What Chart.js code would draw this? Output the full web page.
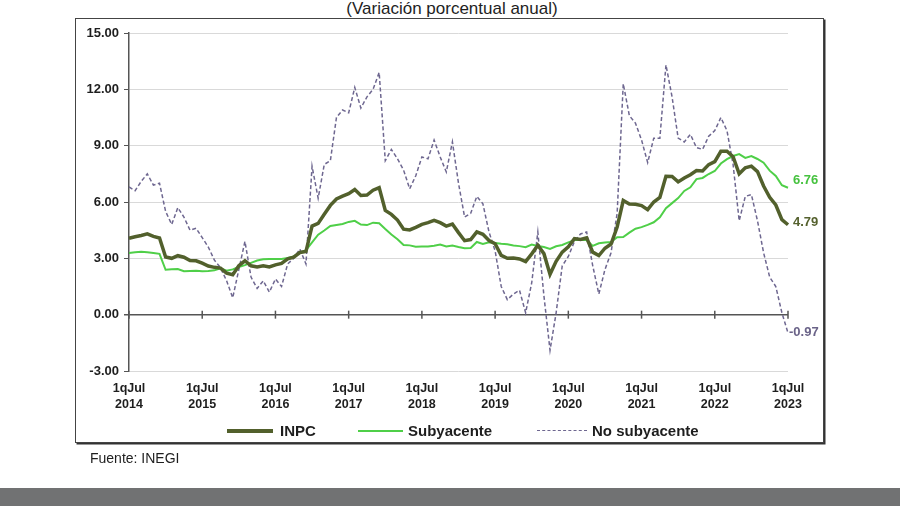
<!DOCTYPE html>
<html>
<head>
<meta charset="utf-8">
<script src="https://cdn.jsdelivr.net/npm/chart.js@4.4.1/dist/chart.umd.min.js"></script>
<style>
    body { margin: 0; width: 900px; height: 506px; background: #fff; position: relative; overflow: hidden;
           font-family: "Liberation Sans", Arial, sans-serif; color: #1e1e1e; }
    #box { position: absolute; left: 75px; top: 18px; width: 747px; height: 423px;
           border: 1.5px solid #444; box-shadow: 1.5px 1.5px 0 #333; }
    #title { position: absolute; left: 0; width: 904px; top: 0; text-align: center; font-size: 17px; line-height: 18px; }
    #chart { position: absolute; left: 0; top: 0; }
    .lg-line { position: absolute; }
    .lg-text { position: absolute; top: 422px; font-size: 15px; font-weight: bold; line-height: 18px; }
    #source { position: absolute; left: 90px; top: 449px; font-size: 14px; line-height: 18px; }
    #band { position: absolute; left: 0; top: 488px; width: 900px; height: 18px; background: #717273; }
</style>
</head>
<body>
<div id="box"></div>
<div id="title">(Variación porcentual anual)</div>
<canvas id="chart" width="900" height="506"></canvas>
<div id="legend"></div>
<div id="source">Fuente: INEGI</div>
<div id="band"></div>
<script>
// monthly periods, Jul 2014 .. Jul 2023 (first fortnight shown on the axis)
const startYear = 2014, startMonth = 7, nPeriods = 109;
const periods = [];
for (let i = 0; i < nPeriods; i++) {
    const m = (startMonth - 1 + i) % 12 + 1;
    const y = startYear + Math.floor((startMonth - 1 + i) / 12);
    periods.push(y + '-' + String(m).padStart(2, '0'));
}

const yTicks = [-3, 0, 3, 6, 9, 12, 15];

// annual % change
const inpc = [
    4.07, 4.15, 4.22, 4.30, 4.17, 4.08,
    3.07, 3.00, 3.14, 3.06, 2.88, 2.87, 2.74, 2.59, 2.52, 2.48, 2.21, 2.13,
    2.61, 2.87, 2.60, 2.54, 2.60, 2.54, 2.65, 2.73, 2.97, 3.06, 3.31, 3.36,
    4.72, 4.86, 5.35, 5.82, 6.16, 6.31, 6.44, 6.66, 6.35, 6.37, 6.63, 6.77,
    5.55, 5.34, 5.04, 4.55, 4.51, 4.65, 4.81, 4.90, 5.02, 4.90, 4.72, 4.83,
    4.37, 3.94, 4.00, 4.41, 4.28, 3.95, 3.78, 3.16, 3.00, 3.02, 2.97, 2.83,
    3.24, 3.70, 3.25, 2.15, 2.84, 3.33, 3.62, 4.05, 4.01, 4.09, 3.33, 3.15,
    3.54, 3.76, 4.67, 6.08, 5.89, 5.88, 5.81, 5.59, 6.00, 6.24, 7.37, 7.36,
    7.07, 7.28, 7.45, 7.68, 7.65, 7.99, 8.15, 8.70, 8.70, 8.41, 7.50, 7.82,
    7.91, 7.62, 6.85, 6.25, 5.84, 5.06, 4.79
];
const subyacente = [
    3.29, 3.32, 3.35, 3.32, 3.29, 3.24,
    2.39, 2.42, 2.43, 2.31, 2.33, 2.34, 2.31, 2.33, 2.36, 2.47, 2.34, 2.41,
    2.54, 2.64, 2.76, 2.88, 2.95, 2.97, 2.97, 2.96, 3.02, 3.10, 3.29, 3.44,
    3.85, 4.26, 4.48, 4.72, 4.78, 4.83, 4.94, 5.00, 4.80, 4.77, 4.90, 4.87,
    4.56, 4.27, 4.02, 3.71, 3.69, 3.62, 3.63, 3.63, 3.67, 3.73, 3.63, 3.68,
    3.60, 3.54, 3.55, 3.87, 3.77, 3.85, 3.82, 3.78, 3.75, 3.68, 3.65, 3.59,
    3.73, 3.66, 3.60, 3.50, 3.64, 3.71, 3.85, 3.97, 3.99, 3.98, 3.66, 3.80,
    3.84, 3.87, 4.12, 4.13, 4.37, 4.58, 4.66, 4.78, 4.92, 5.19, 5.67, 5.94,
    6.21, 6.59, 6.78, 7.22, 7.28, 7.49, 7.65, 8.05, 8.28, 8.45, 8.55, 8.35,
    8.45, 8.29, 8.09, 7.67, 7.39, 6.89, 6.76
];
const noSubyacente = [
    6.8, 6.6, 7.1, 7.5, 6.9, 7.0,
    5.5, 4.8, 5.7, 5.2, 4.5, 4.6, 4.1, 3.6, 2.9, 2.5, 1.8, 0.9,
    2.4, 3.9, 2.0, 1.4, 1.8, 1.2, 1.9, 1.5, 2.7, 3.0, 3.5, 2.7,
    7.9, 6.2, 8.0, 8.2, 10.5, 10.9, 10.75, 12.1, 11.0, 11.6, 12.0, 12.9,
    8.2, 8.8, 8.3, 7.7, 6.7, 7.4, 8.4, 8.3, 9.3, 8.4, 7.6, 9.2,
    7.0, 5.2, 5.4, 6.3, 5.9, 4.4, 3.4, 1.5, 0.8, 1.1, 1.3, 0.1,
    1.7, 4.4, 1.0, -1.9, 0.1, 2.6, 3.1, 3.9, 4.3, 4.4, 2.6, 1.1,
    2.4, 3.3, 5.4, 12.3, 10.6, 10.2, 9.3, 8.1, 9.4, 9.4, 13.3, 11.6,
    9.4, 9.2, 9.6, 8.9, 8.8, 9.5, 9.8, 10.5, 9.8, 8.0, 5.0, 6.3,
    6.4, 5.0, 3.3, 2.0, 1.5, 0.1, -0.97
];

const colInpc = '#52602c';
const colSub = '#4fcf48';
const colNoSub = '#6e6790';

// legend
const legendItems = [
    { text: 'INPC', x: 227, w: 46, textX: 280, style: `top:429px;height:4px;background:${colInpc};` },
    { text: 'Subyacente', x: 358, w: 45, textX: 408, style: `top:430px;height:2px;background:${colSub};` },
    { text: 'No subyacente', x: 537, w: 50, textX: 592, style: `top:430px;height:0;border-top:1.5px dashed ${colNoSub};` }
];
const legendEl = document.getElementById('legend');
legendItems.forEach(it => {
    legendEl.insertAdjacentHTML('beforeend',
        `<div class="lg-line" style="left:${it.x}px;width:${it.w}px;${it.style}"></div>` +
        `<div class="lg-text" style="left:${it.textX}px">${it.text}</div>`);
});

// zero axis line tick marks at each July
const zeroTicks = {
    id: 'zeroTicks',
    beforeDatasetsDraw(chart) {
        const { ctx, scales: { x, y } } = chart;
        const y0 = y.getPixelForValue(0);
        ctx.save();
        ctx.strokeStyle = '#555';
        ctx.lineWidth = 1.5;
        periods.forEach((p, i) => {
            if (!p.endsWith('-07')) return;
            const px = x.getPixelForValue(i);
            ctx.beginPath();
            ctx.moveTo(px, y0 - 4);
            ctx.lineTo(px, y0 + 4);
            ctx.stroke();
        });
        ctx.restore();
    }
};

// last value labels
const endLabels = {
    id: 'endLabels',
    afterDatasetsDraw(chart) {
        const { ctx } = chart;
        const offsets = [[5, -2], [5, -7], [1, 0]];
        const colors = ['#55612e', '#46c23f', '#6a6388'];
        ctx.save();
        ctx.font = 'bold 13px "Liberation Sans", Arial, sans-serif';
        ctx.textBaseline = 'middle';
        chart.data.datasets.forEach((ds, i) => {
            const meta = chart.getDatasetMeta(i);
            const pt = meta.data[meta.data.length - 1];
            ctx.fillStyle = colors[i];
            ctx.fillText(ds.data[ds.data.length - 1].toFixed(2), pt.x + offsets[i][0], pt.y + offsets[i][1]);
        });
        ctx.restore();
    }
};

new Chart(document.getElementById('chart'), {
    type: 'line',
    data: {
        labels: periods,
        datasets: [
            { label: 'INPC', data: inpc, borderColor: colInpc, borderWidth: 3.5, order: 1 },
            { label: 'Subyacente', data: subyacente, borderColor: colSub, borderWidth: 2, order: 2 },
            { label: 'No subyacente', data: noSubyacente, borderColor: colNoSub, borderWidth: 1.5, borderDash: [4, 2.5], order: 3 }
        ]
    },
    options: {
        responsive: false,
        animation: false,
        elements: { point: { radius: 0 }, line: { tension: 0 } },
        layout: { padding: { top: 33, right: 112, bottom: 85, left: 0 } },
        plugins: { legend: { display: false }, tooltip: { enabled: false } },
        scales: {
            x: {
                grid: { display: false },
                border: { display: false },
                afterFit: s => { s.height = 50; },
                ticks: {
                    autoSkip: false,
                    maxRotation: 0,
                    padding: 2,
                    color: '#1e1e1e',
                    font: { family: '"Liberation Sans", Arial, sans-serif', size: 12.5, weight: 'bold', lineHeight: 1.25 },
                    callback: function (val) {
                        const p = periods[val];
                        return p.endsWith('-07') ? ['1qJul', p.slice(0, 4)] : null;
                    }
                }
            },
            y: {
                min: -3,
                max: 15,
                afterFit: s => { s.width = 129; },
                afterBuildTicks: s => { s.ticks = yTicks.map(v => ({ value: v })); },
                border: { color: '#555', width: 1.5 },
                grid: {
                    color: c => c.tick.value === 0 ? '#555' : '#d9d9d9',
                    lineWidth: c => c.tick.value === 0 ? 1.5 : 1,
                    tickColor: '#555',
                    tickLength: 5
                },
                ticks: {
                    padding: 5,
                    color: '#1e1e1e',
                    font: { family: '"Liberation Sans", Arial, sans-serif', size: 13, weight: 'bold' },
                    callback: v => v.toFixed(2)
                }
            }
        }
    },
    plugins: [zeroTicks, endLabels]
});
</script>
</body>
</html>
